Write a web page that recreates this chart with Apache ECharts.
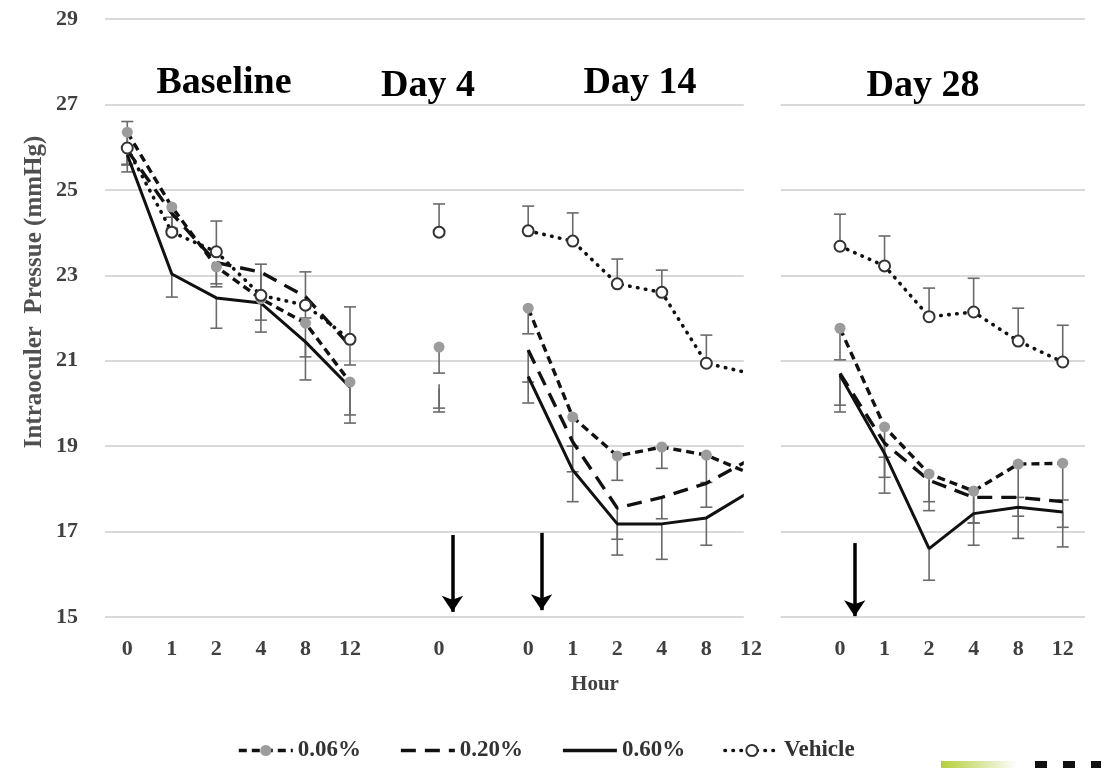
<!DOCTYPE html>
<html><head><meta charset="utf-8">
<script src="https://cdn.jsdelivr.net/npm/echarts@6/dist/echarts.min.js"></script>
<style>html,body{margin:0;padding:0;background:#fff}#c{width:1102px;height:768px}</style>
</head><body><div id="c"></div>
<script>
// ---------- data ----------
const categories = ['0','1','2','4','8','12','','0','','0','1','2','4','8','12','','0','1','2','4','8','12'];
const panelTitles = ['Baseline','Day 4','Day 14','Day 28'];
const seriesNames = ['0.06%','0.20%','0.60%','Vehicle'];
const yMin = 15, yMax = 29, yStep = 2;

const iop006 = [26.35,24.6,23.2,22.45,21.88,20.5, null,21.32, null,22.23,19.68,18.77,18.98,18.79,18.35, null,21.76,19.45,18.35,17.95,18.58,18.6];
const iop020 = [25.93,24.45,23.3,23.07,22.5,21.35, null,20.45, null,21.25,19.1,17.55,17.8,18.13,18.7, null,20.7,19.07,18.2,17.8,17.8,17.7];
const iop060 = [25.82,23.03,22.47,22.35,21.44,20.38, null,20.35, null,20.63,18.44,17.18,17.18,17.32,17.95, null,20.66,18.83,16.6,17.42,17.57,17.46];
const iopVeh = [25.98,24.01,23.55,22.53,22.3,21.5, null,24.01, null,24.04,23.8,22.8,22.6,20.94,20.7, null,23.68,23.22,22.03,22.14,21.46,20.97];

// error bar lengths (drug groups drawn downward, vehicle upward)
const err006 = [0.75,0.5,0.47,0.5,0.79,0.77, null,0.61, null,0.6,0.68,0.57,0.5,0.64,0.5, null,0.74,0.71,0.65,0.75,0.78,0.86];
const err020 = [0.35,0.4,0.5,0.5,0.5,0.45, null,0.56, null,0.75,0.7,0.73,0.5,0.56,0.5, null,0.74,0.8,0.71,0.6,0.44,0.6];
const err060 = [0.4,0.54,0.71,0.68,0.89,0.84, null,0.55, null,0.62,0.74,0.73,0.83,0.64,0.5, null,0.86,0.93,0.74,0.74,0.73,0.82];
const errVeh = [0.62,0.35,0.72,0.73,0.78,0.76, null,0.66, null,0.58,0.66,0.58,0.52,0.66,0.6, null,0.75,0.7,0.67,0.79,0.77,0.86];

// dosing arrows (category position, top value, tip value)
const arrowPos = [7.3, 9.3, 16.33];
const arrowTop = [16.92, 16.97, 16.73];
const arrowTip = [15.12, 15.16, 15.02];

// ---------- chart ----------
const FONT = '"Liberation Serif","Times New Roman",serif';
const chart = echarts.init(document.getElementById('c'));

function errSeries(name, vals, errs, dir) {
  const data = [];
  vals.forEach((v, i) => { if (v != null && errs[i] != null) data.push([i, v, errs[i]]); });
  return {
    name: name + ' err', type: 'custom', z: 1, silent: true,
    data: data, encode: { x: 0, y: 1 },
    renderItem: function (params, api) {
      const x = api.value(0), y = api.value(1), e = api.value(2);
      const a = api.coord([x, y]), b = api.coord([x, y + dir * e]);
      const w = 6;
      return { type: 'group', children: [
        { type: 'line', shape: { x1: a[0], y1: a[1], x2: b[0], y2: b[1] }, style: { stroke: '#6a6a6a', lineWidth: 1.6 } },
        { type: 'line', shape: { x1: b[0] - w, y1: b[1], x2: b[0] + w, y2: b[1] }, style: { stroke: '#6a6a6a', lineWidth: 1.6 } }
      ]};
    }
  };
}

const lineBase = { type: 'line', z: 3, connectNulls: false, showAllSymbol: true, silent: true, animation: false };

const option = {
  animation: false,
  backgroundColor: '#fff',
  grid: { left: 105, right: 17, top: 19, bottom: 151, containLabel: false },
  legend: {
    data: seriesNames, left: 232, top: 734, itemWidth: 54, itemHeight: 14, itemGap: 38,
    textStyle: { fontFamily: FONT, fontWeight: 'bold', fontSize: 23, color: '#333' },
    lineStyle: { width: 3.6 },
    selectedMode: false
  },
  xAxis: [
    { type: 'category', data: categories, boundaryGap: true,
      axisLine: { show: false }, axisTick: { show: false },
      axisLabel: { interval: 0, margin: 21, fontFamily: FONT, fontWeight: 'bold', fontSize: 22, color: '#404040' },
      name: 'Hour', nameLocation: 'middle', nameGap: 57,
      nameTextStyle: { fontFamily: FONT, fontWeight: 'bold', fontSize: 21, color: '#404040' } },
    { type: 'value', min: -0.5, max: 21.5, show: false }
  ],
  yAxis: {
    type: 'value', min: yMin, max: yMax, interval: yStep,
    axisLine: { show: false }, axisTick: { show: false },
    axisLabel: { margin: 27, fontFamily: FONT, fontWeight: 'bold', fontSize: 22, color: '#404040' },
    splitLine: { lineStyle: { color: '#d9d9d9', width: 2 } }
  },
  series: [
    errSeries('0.06%', iop006, err006, -1),
    errSeries('0.20%', iop020, err020, -1),
    errSeries('0.60%', iop060, err060, -1),
    errSeries('Vehicle', iopVeh, errVeh, 1),
    Object.assign({}, lineBase, { name: '0.06%', data: iop006, symbol: 'circle', symbolSize: 11,
      itemStyle: { color: '#9c9c9c', borderWidth: 0 },
      lineStyle: { color: '#111', width: 3.4, type: [8, 5] }, z: 4 }),
    Object.assign({}, lineBase, { name: '0.20%', data: iop020, symbol: 'none',
      itemStyle: { color: '#111', opacity: 0 },
      lineStyle: { color: '#111', width: 3.4, type: [15, 9], opacity: 1 } }),
    Object.assign({}, lineBase, { name: '0.60%', data: iop060, symbol: 'none',
      itemStyle: { color: '#111', opacity: 0 },
      lineStyle: { color: '#111', width: 3, opacity: 1 } }),
    Object.assign({}, lineBase, { name: 'Vehicle', data: iopVeh, symbol: 'circle', symbolSize: 11,
      itemStyle: { color: '#ffffff', borderColor: '#333', borderWidth: 2 },
      lineStyle: { color: '#111', width: 3.6, type: [0.5, 7.5], cap: 'round' }, z: 5 }),
    { name: 'arrows', type: 'line', xAxisIndex: 1, data: [], silent: true, z: 6,
      itemStyle: { color: '#000' },
      markLine: { silent: true, animation: false, symbol: ['none', 'arrow'], symbolSize: 16,
        itemStyle: { color: '#000' },
        label: { show: false }, lineStyle: { color: '#000', width: 3.5, type: 'solid' },
        data: arrowPos.map((p, i) => [{ coord: [p, arrowTop[i]] }, { coord: [p, arrowTip[i]] }]) } }
  ]
};
chart.setOption(option);

// panel titles, y-axis title, gap in the grid between Day 14 and Day 28
const titleAt = [[224, 83], [428, 86], [640, 83], [923, 86]];
const gx0 = chart.convertToPixel({ xAxisIndex: 1 }, 13.84);
const gx1 = chart.convertToPixel({ xAxisIndex: 1 }, 14.67);
const gy0 = chart.convertToPixel({ yAxisIndex: 0 }, 27.25);
const gy1 = chart.convertToPixel({ yAxisIndex: 0 }, 14.8);
const graphics = [
  { type: 'rect', z: 50, silent: true, shape: { x: gx0, y: gy0, width: gx1 - gx0, height: gy1 - gy0 }, style: { fill: '#fff' } },
  { type: 'text', z: 60, x: 35, y: 292, rotation: Math.PI / 2, silent: true,
    style: { text: 'Intraoculer  Pressue (mmHg)', font: 'bold 25px ' + FONT, fill: '#505050', align: 'center', verticalAlign: 'middle' } },
  // fragment of a logo cropped at the bottom edge of the source picture
  { type: 'rect', silent: true, shape: { x: 941, y: 761, width: 76, height: 8 },
    style: { fill: new echarts.graphic.LinearGradient(0, 0, 1, 0, [{ offset: 0, color: '#b5cf3a' }, { offset: 0.7, color: '#e6efc0' }, { offset: 1, color: '#ffffff' }]) } },
  { type: 'rect', silent: true, shape: { x: 1035, y: 761, width: 12, height: 8 }, style: { fill: '#111' } },
  { type: 'rect', silent: true, shape: { x: 1063, y: 761, width: 12, height: 8 }, style: { fill: '#111' } },
  { type: 'rect', silent: true, shape: { x: 1091, y: 761, width: 10, height: 8 }, style: { fill: '#111' } }
];
panelTitles.forEach((t, i) => graphics.push({ type: 'text', z: 60, x: titleAt[i][0], y: titleAt[i][1], silent: true,
  style: { text: t, font: 'bold 38px ' + FONT, fill: '#000', align: 'center', verticalAlign: 'middle' } }));
chart.setOption({ graphic: graphics });
</script></body></html>
